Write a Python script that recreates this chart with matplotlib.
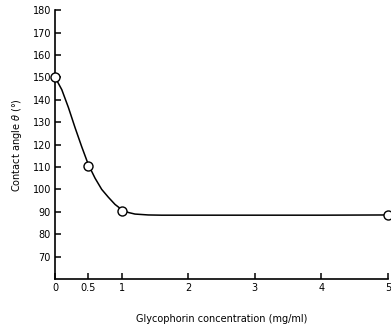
import numpy as np
import matplotlib
matplotlib.use("Agg")
import matplotlib.pyplot as plt

# Measured points
conc = [0, 0.5, 1, 5]
angle = [150, 110.5, 90.5, 88.7]

# Smooth curve
curve_x = [0, 0.1, 0.2, 0.3, 0.4, 0.5, 0.6, 0.7, 0.8, 0.9, 1.0, 1.1, 1.2, 1.4, 1.6, 2, 3, 4, 5]
curve_y = [150, 144.5, 136.5, 127.5, 119, 111, 105, 100, 96.5, 93.3, 91,
           89.7, 89.0, 88.6, 88.5, 88.5, 88.5, 88.5, 88.6]

xticks = [0, 0.5, 1, 2, 3, 4, 5]
xticklabels = ["0", "0.5", "1", "2", "3", "4", "5"]
yticks = list(range(70, 181, 10))

fig = plt.figure(figsize=(3.91, 3.26), dpi=100)
ax = fig.add_axes([0.141, 0.144, 0.851, 0.825])

ax.plot(curve_x, curve_y, color="black", lw=1.1, zorder=2)
ax.plot(conc, angle, "o", ms=6.5, mfc="white", mec="black", mew=1.0,
        clip_on=False, zorder=3)

ax.set_xlim(0, 5)
ax.set_ylim(60, 180)
ax.set_xticks(xticks)
ax.set_xticklabels(xticklabels)
ax.set_yticks(yticks)

for s in ["top", "right"]:
    ax.spines[s].set_visible(False)
for s in ["left", "bottom"]:
    ax.spines[s].set_linewidth(1.2)

ax.tick_params(direction="in", length=4, width=1.1, labelsize=7, pad=3)

ax.set_xlabel("Glycophorin concentration (mg/ml)", fontsize=7, labelpad=15)
ax.set_ylabel("Contact angle $\\theta$ (°)", fontsize=7, labelpad=6)

fig.savefig("out.png", dpi=100)
